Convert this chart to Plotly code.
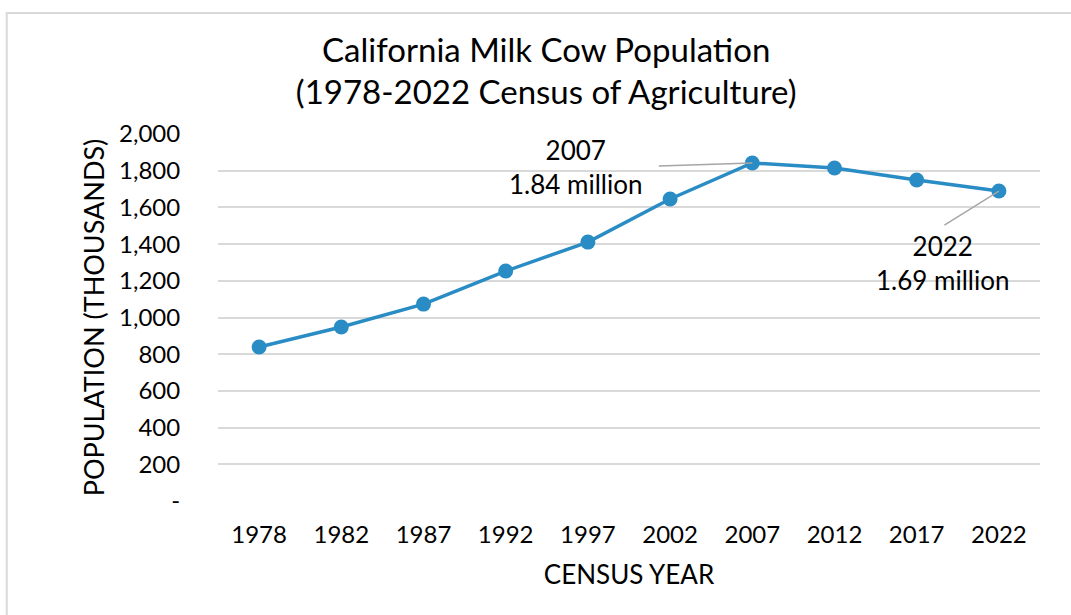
import plotly.graph_objects as go

# Census years and California milk cow inventory (thousands of head)
years = ["1978", "1982", "1987", "1992", "1997", "2002", "2007", "2012", "2017", "2022"]
cows_thousands = [839, 948, 1073, 1253, 1411, 1646, 1842, 1815, 1749, 1689]

y_ticks = [0, 200, 400, 600, 800, 1000, 1200, 1400, 1600, 1800, 2000]
y_tick_text = ["-", "200", "400", "600", "800", "1,000", "1,200", "1,400", "1,600", "1,800", "2,000"]

FONT = "Lato"
BLUE = "#2A8CC4"
GRID = "#D9D9D9"

fig = go.Figure()
fig.add_trace(go.Scatter(
    x=years,
    y=cows_thousands,
    mode="lines+markers",
    line=dict(color=BLUE, width=3.5),
    marker=dict(color=BLUE, size=15),
    cliponaxis=False,
    hoverinfo="x+y",
))

# category axis: annotations are placed by category index
peak_i = years.index("2007")
last_i = years.index("2022")

annotations = [
    # leader lines
    dict(x=peak_i, y=cows_thousands[peak_i], xref="x", yref="y",
         text="", showarrow=True, arrowhead=0, arrowwidth=1.5, arrowcolor="#A6A6A6",
         ax=-95, ay=3, axref="pixel", ayref="pixel"),
    dict(x=last_i, y=cows_thousands[last_i], xref="x", yref="y",
         text="", showarrow=True, arrowhead=0, arrowwidth=1.5, arrowcolor="#A6A6A6",
         ax=-56, ay=35, axref="pixel", ayref="pixel"),
    # value labels
    dict(x=peak_i, y=cows_thousands[peak_i], xref="x", yref="y",
         text=f"2007<br>{cows_thousands[peak_i] / 1000:.2f} million",
         showarrow=False, xshift=-177, yshift=-4,
         font=dict(family=FONT, size=26, color="#000000"), align="center"),
    dict(x=last_i, y=cows_thousands[last_i], xref="x", yref="y",
         text=f"2022<br>{cows_thousands[last_i] / 1000:.2f} million",
         showarrow=False, xshift=-56, yshift=-72,
         font=dict(family=FONT, size=26, color="#000000"), align="center"),
]

fig.update_layout(
    width=1071,
    height=615,
    paper_bgcolor="white",
    plot_bgcolor="white",
    showlegend=False,
    margin=dict(l=218, r=31, t=134, b=114),
    font=dict(family=FONT, size=24, color="#000000"),
    title=dict(
        text="California Milk Cow Population<br>(1978-2022 Census of Agriculture)",
        x=0.51, xanchor="center", y=0.9, yanchor="middle",
        font=dict(family=FONT, size=33, color="#000000"),
    ),
    xaxis=dict(
        type="category",
        range=[-0.5, len(years) - 0.5],
        showgrid=False,
        showline=False,
        zeroline=False,
        ticks="outside", ticklen=12, tickcolor="rgba(0,0,0,0)",
        tickfont=dict(family=FONT, size=24),
        title=dict(text="CENSUS YEAR", font=dict(family=FONT, size=26), standoff=19),
    ),
    yaxis=dict(
        range=[0, 2000],
        tickvals=y_ticks,
        ticktext=y_tick_text,
        showgrid=True, gridcolor=GRID, gridwidth=2,
        zeroline=False,
        showline=False,
        ticks="outside", ticklen=32, tickcolor="rgba(0,0,0,0)",
        tickfont=dict(family=FONT, size=24),
        title=dict(text="POPULATION (THOUSANDS)", font=dict(family=FONT, size=27), standoff=6),
    ),
    annotations=annotations,
    shapes=[
        dict(type="rect", xref="paper", yref="paper",
             x0=-0.257, x1=1.1, y0=-0.5, y1=1.0 + 121 / 367,
             line=dict(color=GRID, width=2), fillcolor="rgba(0,0,0,0)", layer="below"),
    ],
)

fig.write_html("out.html")
